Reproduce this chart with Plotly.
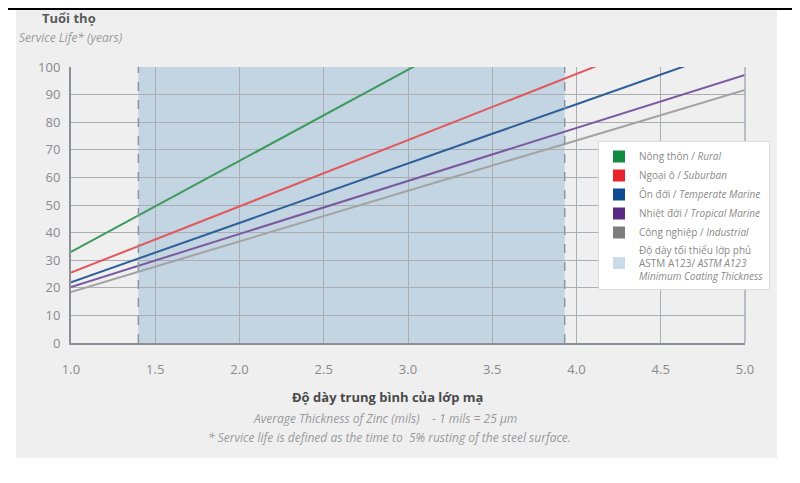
import plotly.graph_objects as go

# ---- data ----
thickness = [1.0, 1.5, 2.0, 2.5, 3.0, 3.5, 4.0, 4.5, 5.0]
rural = [33, 49.5, 66, 82.5, 99, 115.5]
suburban = [25.5, 37.5, 49.5, 61.5, 73.5, 85.5, 97.5, 109.5]
temperate = [22, 32.8, 43.5, 54.3, 65, 75.8, 86.5, 97.3, 108]
tropical = [20.3, 29.9, 39.5, 49.1, 58.7, 68.3, 77.9, 87.5, 97.1]
industrial = [18.5, 27.7, 36.8, 46, 55.1, 64.3, 73.4, 82.6, 91.7]
min_coating = [1.4, 3.93]
x_ticks = [1.0, 1.5, 2.0, 2.5, 3.0, 3.5, 4.0, 4.5, 5.0]
y_ticks = [0, 10, 20, 30, 40, 50, 60, 70, 80, 90, 100]

series = [
    ("Nông thôn / <i>Rural</i>", rural, "#3f9a5e", "#148a42"),
    ("Ngoại ô / <i>Suburban</i>", suburban, "#e2575b", "#e8232b"),
    ("Ôn đới / <i>Temperate Marine</i>", temperate, "#2f5f98", "#0c4a92"),
    ("Nhiệt đới / <i>Tropical Marine</i>", tropical, "#7a5a9e", "#5a2b85"),
    ("Công nghiệp / <i>Industrial</i>", industrial, "#a3a3a3", "#7d7d7d"),
]

# page body has 8px margin; compensate so screen positions match
OX, OY = 8, 8
W, H = 800, 483
# target plot area on screen: x 71..745, y 67..343
L, T = 71 - OX, 67 - OY
pw, ph = 745 - 71, 343 - 67
R = W - L - pw
B = H - T - ph

def px(x):
    return (x - OX - L) / pw

def py(y):
    return (T + ph - (y - OY)) / ph

fig = go.Figure()
for name, ys, lc, mc in series:
    fig.add_trace(go.Scatter(x=thickness[:len(ys)], y=ys, mode="lines",
                             line=dict(color=lc, width=2), showlegend=False,
                             hoverinfo="skip"))
for name, ys, lc, mc in series:
    fig.add_trace(go.Scatter(x=[None], y=[None], mode="markers", name=name,
                             marker=dict(symbol="square", size=13, color=mc)))
fig.add_trace(go.Scatter(x=[None], y=[None], mode="markers",
                         name="Độ dày tối thiểu lớp phủ<br>ASTM A123/ <i>ASTM A123<br>Minimum Coating Thickness</i>",
                         marker=dict(symbol="square", size=13, color="#cadcea")))

shapes = [
    # gray panel
    dict(type="rect", xref="paper", yref="paper", x0=px(16), x1=px(777),
         y0=py(458), y1=py(5), fillcolor="#efeff0", line=dict(width=0), layer="below"),
    # top black line
    dict(type="line", xref="paper", yref="paper", x0=px(8), x1=px(808),
         y0=py(9), y1=py(9), line=dict(color="#000000", width=2)),
    # minimum coating band
    dict(type="rect", xref="x", yref="paper", x0=min_coating[0], x1=min_coating[1],
         y0=0, y1=1, fillcolor="#c3d4e2", line=dict(width=0), layer="below"),
]
for xv in min_coating:
    shapes.append(dict(type="line", xref="x", yref="paper", x0=xv, x1=xv, y0=0, y1=1,
                       line=dict(color="#8b97a3", width=1.5, dash="dash")))

annotations = [
    dict(text="<b>Tuổi thọ</b>", x=px(40), y=py(18), xref="paper", yref="paper",
         xanchor="left", yanchor="middle", showarrow=False,
         font=dict(size=13, color="#5a5a5a")),
    dict(text="<i>Service Life* (years)</i>", x=px(17), y=py(38), xref="paper", yref="paper",
         xanchor="left", yanchor="middle", showarrow=False,
         font=dict(size=12, color="#9a9a9a")),
    dict(text="<b>Độ dày trung bình của lớp mạ</b>", x=px(387), y=py(397), xref="paper", yref="paper",
         xanchor="center", yanchor="middle", showarrow=False,
         font=dict(size=13, color="#4a4a4a")),
    dict(text="<i>Average Thickness of Zinc (mils)    - 1 mils = 25 µm</i>", x=px(385), y=py(419),
         xref="paper", yref="paper", xanchor="center", yanchor="middle", showarrow=False,
         font=dict(size=12, color="#9a9a9a")),
    dict(text="<i>* Service life is defined as the time to  5% rusting of the steel surface.</i>",
         x=px(389), y=py(437), xref="paper", yref="paper", xanchor="center", yanchor="middle",
         showarrow=False, font=dict(size=12, color="#9a9a9a")),
]

fig.update_layout(
    width=W, height=H,
    margin=dict(l=L, r=R, t=T, b=B, autoexpand=False),
    paper_bgcolor="#ffffff", plot_bgcolor="#ffffff",
    font=dict(family="Open Sans, sans-serif", color="#8a8a8a"),
    shapes=shapes, annotations=annotations,
    legend=dict(x=px(598), y=py(141), xanchor="left", yanchor="top",
                bgcolor="#ffffff", bordercolor="#dddddd", borderwidth=1,
                font=dict(size=10, color="#8a8a8a"), tracegroupgap=0,
                itemsizing="constant"),
    xaxis=dict(range=[1.0, 5.0], tickvals=x_ticks, ticktext=[f"{v:.1f}" for v in x_ticks],
               showgrid=True, gridcolor="#a9aeb3", gridwidth=1,
               showline=True, linecolor="#8d9196", linewidth=2, mirror=False,
               ticks="outside", ticklen=13, tickcolor="rgba(0,0,0,0)",
               tickfont=dict(size=13, color="#8a8a8a"), zeroline=False,
               fixedrange=True),
    yaxis=dict(range=[0, 100], tickvals=y_ticks, showgrid=True, gridcolor="#a9aeb3",
               gridwidth=1, showline=True, linecolor="#8d9196", linewidth=2,
               ticks="outside", ticklen=6, tickcolor="rgba(0,0,0,0)",
               tickfont=dict(size=13, color="#8a8a8a"), zeroline=False,
               fixedrange=True),
)
# right border at 5.0
fig.add_shape(type="line", xref="paper", yref="paper", x0=1, x1=1, y0=0, y1=1,
              line=dict(color="#a9aeb3", width=1.5))

fig.write_html("out.html")
